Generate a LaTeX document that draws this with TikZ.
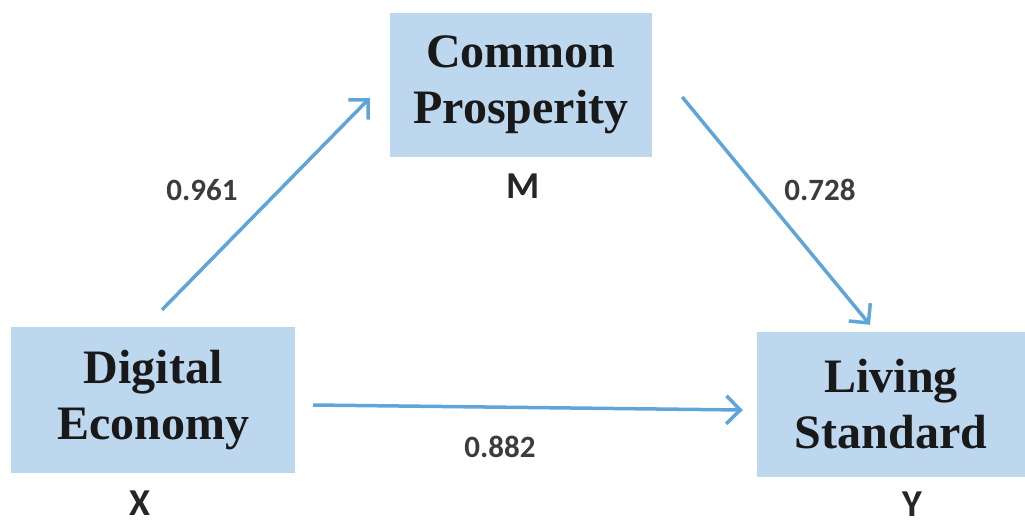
\documentclass[tikz,border=0pt]{standalone}
\usepackage{fontspec}
\setmainfont{Liberation Serif}
\newfontfamily\labfont{Carlito}
\usetikzlibrary{arrows.meta}
\definecolor{boxfill}{RGB}{189,215,238}
\definecolor{arrowblue}{RGB}{95,165,215}
\definecolor{labgray}{RGB}{60,60,60}
\tikzset{
  varbox/.style={fill=boxfill, draw=none, inner sep=0pt, align=center,
    font=\fontsize{48}{56}\selectfont\bfseries, text=black!90},
  coef/.style={font=\labfont\fontsize{31}{36}\selectfont\bfseries, text=labgray, inner sep=0pt},
  varlab/.style={font=\labfont\fontsize{38}{44}\selectfont\bfseries, text=black!85, inner sep=0pt},
  path/.style={draw=arrowblue, line width=3.5pt, -{Straight Barb[length=14pt,width=28pt,line width=3.5pt]}}
}
\begin{document}
\begin{tikzpicture}[x=1pt,y=-1pt]
\useasboundingbox (0,0) rectangle (1025,524);
\node[varbox, minimum width=262pt, minimum height=144pt] (cp) at (521,85) {Common\\Prosperity};
\node[varbox, minimum width=284pt, minimum height=146pt] (de) at (153,400) {Digital\\Economy};
\node[varbox, minimum width=268pt, minimum height=145pt] (ls) at (891,404.5) {Living\\Standard};
\node[varlab] (m) at (523,186) {M};
\node[varlab] (x) at (140,503) {X};
\node[varlab] (y) at (912,504) {Y};
\draw[path] ([shift={(9,-17)}]de.north) -- ([shift={(-20,13)}]cp.west);
\draw[path] ([shift={(30,12)}]cp.east) -- ([shift={(-21,-7)}]ls.north);
\draw[path] ([shift={(18,5)}]de.east) -- ([shift={(-14,5.5)}]ls.west);
\node[coef] (c1) at (202,190) {0.961};
\node[coef] (c2) at (820,190) {0.728};
\node[coef] (c3) at (500,447) {0.882};
\end{tikzpicture}
\end{document}
